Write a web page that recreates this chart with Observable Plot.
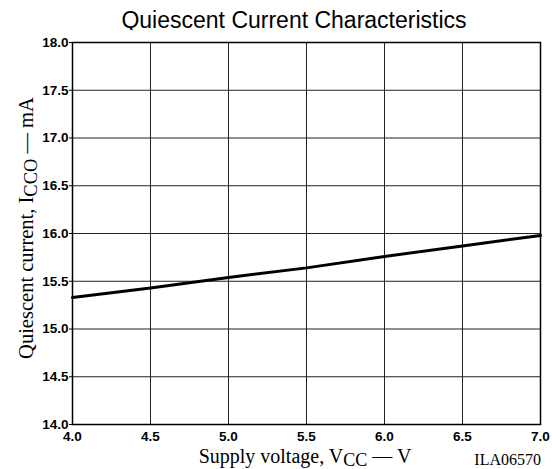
<!DOCTYPE html>
<html><head><meta charset="utf-8">
<script src="https://cdn.jsdelivr.net/npm/d3@7"></script>
<script src="https://cdn.jsdelivr.net/npm/@observablehq/plot@0.6"></script>
<style>
body{margin:0;background:#fff;}
#wrap{position:relative;width:552px;height:469px;}
#title{position:absolute;left:0;top:0;width:552px;height:30px;font-family:"Liberation Sans",Arial,sans-serif;font-size:23px;text-align:center;padding-left:36px;box-sizing:border-box;line-height:41px;color:#000;}
#chart{position:absolute;left:0;top:30px;}
</style></head>
<body><div id="wrap"><div id="title">Quiescent Current Characteristics</div><div id="chart"></div></div>
<script>
const voltage = [4.0, 4.5, 5.0, 5.5, 6.0, 6.5, 7.0];
const current = [15.33, 15.43, 15.54, 15.64, 15.76, 15.87, 15.98];
const xTicks = [4.0, 4.5, 5.0, 5.5, 6.0, 6.5, 7.0];
const yTicks = [14.0, 14.5, 15.0, 15.5, 16.0, 16.5, 17.0, 17.5, 18.0];
const code = "ILA06570";

const data = voltage.map((v, i) => ({v, c: current[i]}));
const W = 552, H = 439;
const plot = Plot.plot({
  width: W, height: H,
  marginTop: 12, marginBottom: 45, marginLeft: 72, marginRight: 12,
  style: {fontFamily: "'Liberation Sans', Arial, sans-serif", fontSize: "13.5px", color: "#000", background: "#fff"},
  x: {domain: [4, 7], ticks: xTicks, tickFormat: d => d.toFixed(1), label: null},
  y: {domain: [14, 18], ticks: yTicks, tickFormat: d => d.toFixed(1), label: null},
  marks: [
    Plot.gridX(xTicks, {stroke: "#222", strokeOpacity: 1, strokeWidth: 1}),
    Plot.gridY(yTicks, {stroke: "#222", strokeOpacity: 1, strokeWidth: 1}),
    Plot.axisX(xTicks, {tickSize: 0, tickPadding: 7, fontWeight: "bold", tickFormat: d => d.toFixed(1), label: null}),
    Plot.axisY(yTicks, {tickSize: 3, tickPadding: 1, fontWeight: "bold", tickFormat: d => d.toFixed(1), label: null}),
    Plot.frame({stroke: "#000", strokeWidth: 1.5}),
    Plot.line(data, {x: "v", y: "c", stroke: "#000", strokeWidth: 3})
  ]
});
document.getElementById("chart").appendChild(plot);
const svg = d3.select(plot);
const serif = "'Liberation Serif','Times New Roman',serif";
// x label
const xl = svg.append("text").attr("x", 305).attr("y", 433).attr("text-anchor", "middle")
  .attr("font-family", serif).attr("font-weight", "normal").attr("font-size", 20).attr("fill", "#000");
xl.append("tspan").text("Supply voltage, V");
xl.append("tspan").attr("font-size", 18).attr("dy", 3).text("CC");
xl.append("tspan").attr("dy", -3).text(" \u2014 V");
// code label
svg.append("text").attr("x", 541).attr("y", 435).attr("text-anchor", "end")
  .attr("font-family", serif).attr("font-weight", "normal").attr("font-size", 16).attr("fill", "#000").text(code);
// y label
const yl = svg.append("text").attr("transform", "translate(33,198) rotate(-90)").attr("text-anchor", "middle")
  .attr("font-family", serif).attr("font-weight", "normal").attr("font-size", 20.5).attr("fill", "#000");
yl.append("tspan").text("Quiescent current, I");
yl.append("tspan").attr("font-size", 18.5).attr("dy", 4).text("CCO");
yl.append("tspan").attr("dy", -4).text(" \u2014 mA");
</script></body></html>
